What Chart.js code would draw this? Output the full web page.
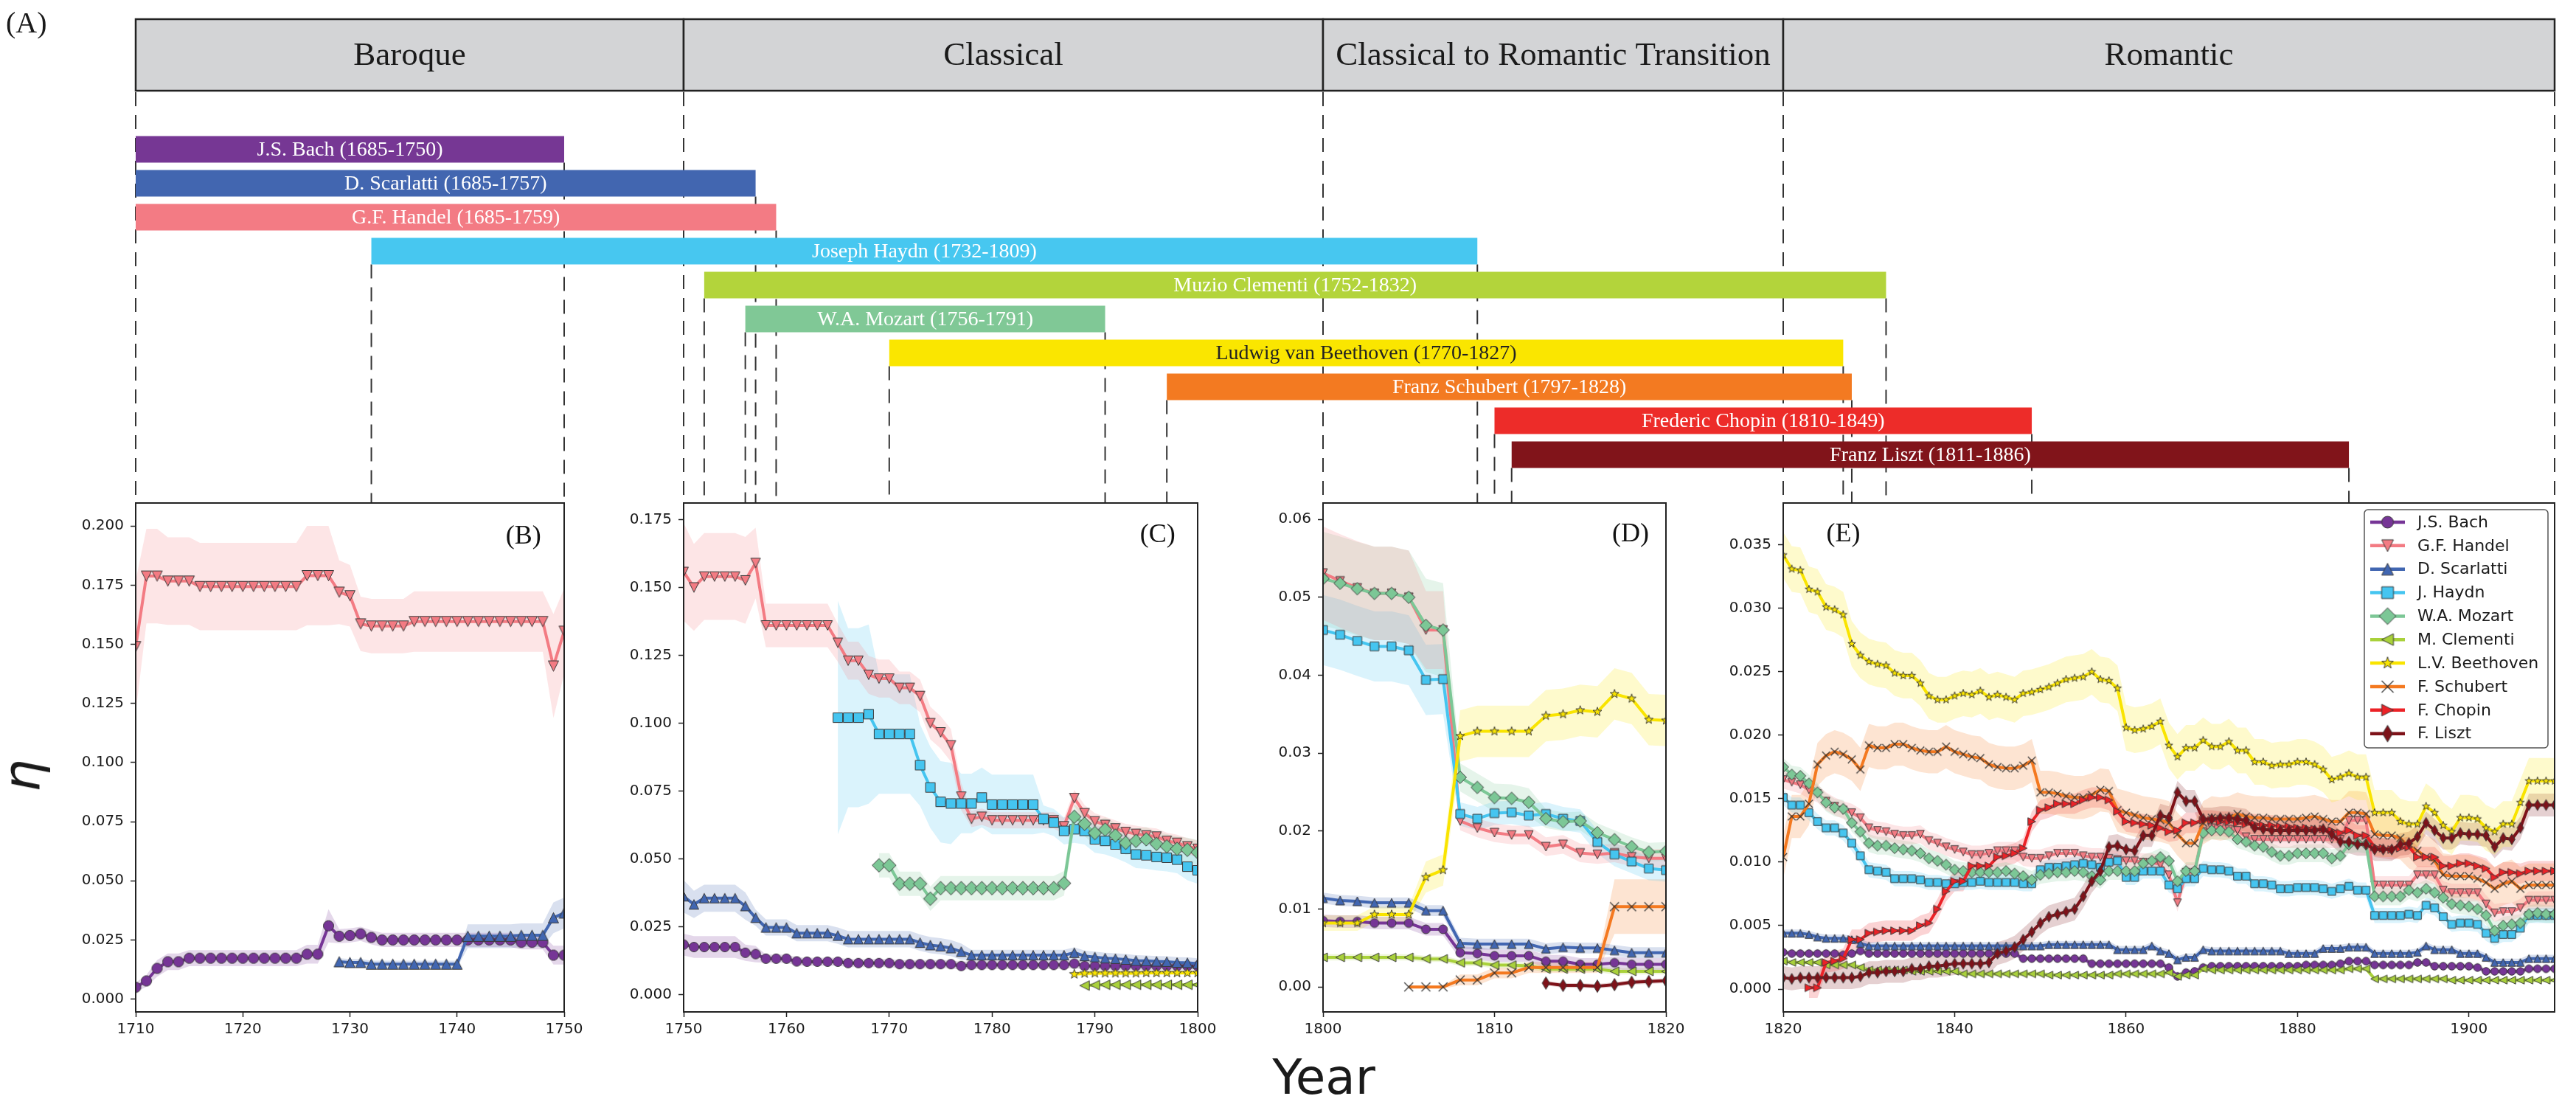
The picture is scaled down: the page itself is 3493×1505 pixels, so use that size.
<!DOCTYPE html>
<html>
<head>
<meta charset="utf-8">
<script src="https://cdn.jsdelivr.net/npm/chart.js@4.4.1/dist/chart.umd.min.js"></script>
<style>
  html, body { margin: 0; padding: 0; background: #fff; overflow: hidden; }
  body { width: 3493px; height: 1505px; position: relative; }
  canvas { position: absolute; }
  .lbl { position: absolute; color: #1a1a1a; white-space: nowrap; line-height: 1; }
</style>
</head>
<body>
<canvas id="timeline" width="3493" height="690" style="left:0;top:0"></canvas>
<canvas id="pB"></canvas>
<canvas id="pC"></canvas>
<canvas id="pD"></canvas>
<canvas id="pE"></canvas>
<div class="lbl" id="eta" style="left:30px; top:1052px; font: italic 70px 'DejaVu Sans'; transform: translate(-50%,-50%) rotate(-90deg);">η</div>
<div class="lbl" id="yearLbl" style="left:1795px; top:1422px; font: 66px 'DejaVu Sans'; transform: translateX(-50%);">Year</div>
<script>
// --- composers, same order as the legend ---
const composers = ['J.S. Bach', 'G.F. Handel', 'D. Scarlatti', 'J. Haydn', 'W.A. Mozart',
  'M. Clementi', 'L.V. Beethoven', 'F. Schubert', 'F. Chopin', 'F. Liszt'];
const lineColors = ['#763596', '#f37b83', '#4166b1', '#45c5f0', '#7cc796',
  '#a9d13b', '#f9e400', '#f47920', '#ec2227', '#7e1219'];
const markerShapes = ['o', 'v', '^', 's', 'D', '<', '*', 'x', '>', 'd'];

// --- timeline (A) ---
const lifeNames = ['J.S. Bach', 'D. Scarlatti', 'G.F. Handel', 'Joseph Haydn', 'Muzio Clementi',
  'W.A. Mozart', 'Ludwig van Beethoven', 'Franz Schubert', 'Frederic Chopin', 'Franz Liszt'];
const lifeBorn = [1685, 1685, 1685, 1732, 1752, 1756, 1770, 1797, 1810, 1811];
const lifeDied = [1750, 1757, 1759, 1809, 1832, 1791, 1827, 1828, 1849, 1886];
const lifeColors = ['#763794', '#4266b0', '#f37b84', '#47c7f0', '#b3d43b',
  '#80c896', '#fae600', '#f37a21', '#ed2c29', '#81141a'];
const eraNames = ['Baroque', 'Classical', 'Classical to Romantic Transition', 'Romantic'];
const eraFrom = [1710, 1750, 1800, 1820];
const eraTo = [1750, 1800, 1820, 1910];

// --- panel (B) 1710-1750 ---
const bXTicks = [1710, 1720, 1730, 1740, 1750];
const bYTicks = [0, 0.025, 0.05, 0.075, 0.1, 0.125, 0.15, 0.175, 0.2];
const bBach = [0.005, 0.0077, 0.013, 0.0158, 0.0158,
  0.0173, 0.0173, 0.0173, 0.0173, 0.0173, 0.0173, 0.0173, 0.0173, 0.0173, 0.0173, 0.0173,
  0.019, 0.019, 0.031, 0.0266, 0.0269, 0.0276, 0.0261,
  0.025, 0.025, 0.025, 0.025, 0.025, 0.025, 0.025, 0.025, 0.025, 0.025, 0.025, 0.025, 0.025,
  0.024, 0.024, 0.024, 0.0186, 0.0186];
const bBachBand = [0.002, 0.0025, 0.0035, 0.0035, 0.0035,
  0.0034, 0.0034, 0.0034, 0.0034, 0.0034, 0.0034, 0.0034, 0.0034, 0.0034, 0.0034, 0.0034,
  0.004, 0.004, 0.007, 0.003, 0.003, 0.003, 0.003,
  0.003, 0.003, 0.003, 0.003, 0.003, 0.003, 0.003, 0.003, 0.003, 0.003, 0.003, 0.003, 0.003,
  0.003, 0.003, 0.003, 0.004, 0.004];
const bHandel = [0.149, 0.1788, 0.1788, 0.1767, 0.1767, 0.1767,
  0.1744, 0.1744, 0.1744, 0.1744, 0.1744, 0.1744, 0.1744, 0.1744, 0.1744, 0.1744,
  0.179, 0.179, 0.179, 0.172, 0.1705, 0.1586, 0.1577, 0.1577, 0.1577, 0.1577,
  0.1596, 0.1596, 0.1596, 0.1596, 0.1596, 0.1596, 0.1596, 0.1596, 0.1596, 0.1596, 0.1596, 0.1596, 0.1596,
  0.1408, 0.1555];
const bHandelBand = [0.028, 0.02, 0.02, 0.0185, 0.0185, 0.0185,
  0.0185, 0.0185, 0.0185, 0.0185, 0.0185, 0.0185, 0.0185, 0.0185, 0.0185, 0.0185,
  0.021, 0.021, 0.021, 0.0135, 0.013, 0.0115, 0.0115, 0.0115, 0.0115, 0.0115,
  0.0128, 0.0128, 0.0128, 0.0128, 0.0128, 0.0128, 0.0128, 0.0128, 0.0128, 0.0128, 0.0128, 0.0128, 0.0128,
  0.022, 0.018];
const bScarlatti = [0.0158, 0.0155, 0.0155,
  0.0148, 0.0148, 0.0148, 0.0148, 0.0148, 0.0148, 0.0148, 0.0148, 0.0148,
  0.0266, 0.0266, 0.0266, 0.0266, 0.0266, 0.027, 0.027, 0.027, 0.0344, 0.0364];
const bScarlattiBand = [0.0015, 0.0015, 0.0015, 0.0015, 0.0015, 0.0015, 0.0015, 0.0015, 0.0015, 0.0015, 0.0015, 0.0015,
  0.005, 0.005, 0.005, 0.005, 0.005, 0.005, 0.005, 0.005, 0.0065, 0.0065];

// --- panel (C) 1750-1800 ---
const cXTicks = [1750, 1760, 1770, 1780, 1790, 1800];
const cYTicks = [0, 0.025, 0.05, 0.075, 0.1, 0.125, 0.15, 0.175];
const cBach = [0.0184, 0.0175, 0.0175, 0.0175, 0.0175, 0.0175, 0.0154, 0.0149, 0.0132, 0.0132,
  0.0132, 0.0122, 0.0121, 0.0121, 0.0121, 0.0121, 0.0116, 0.0116, 0.0116, 0.0116,
  0.0116, 0.0112, 0.0112, 0.0112, 0.0112, 0.0112, 0.0112, 0.0105, 0.0109, 0.0109,
  0.0109, 0.0109, 0.0109, 0.0109, 0.0109, 0.0109, 0.0109, 0.0109, 0.0114, 0.0105,
  0.0105, 0.0105, 0.0105, 0.0105, 0.0105, 0.0105, 0.0105, 0.0105, 0.0105, 0.0105, 0.0105];
const cBachBand = [0.004, 0.004, 0.004, 0.004, 0.004, 0.004, 0.003, 0.003, 0.0015, 0.0015,
  0.0015, 0.0015, 0.0015, 0.0015, 0.0015, 0.0015, 0.0015, 0.0015, 0.0015, 0.0015,
  0.0015, 0.0015, 0.0015, 0.0015, 0.0015, 0.0015, 0.0015, 0.0015, 0.0015, 0.0015,
  0.0015, 0.0015, 0.0015, 0.0015, 0.0015, 0.0015, 0.0015, 0.0015, 0.0015, 0.0015,
  0.0015, 0.0015, 0.0015, 0.0015, 0.0015, 0.0015, 0.0015, 0.0015, 0.0015, 0.0015, 0.0015];
const cHandel = [0.1557, 0.150, 0.154, 0.154, 0.154, 0.154, 0.1526, 0.159, 0.136, 0.136,
  0.136, 0.136, 0.136, 0.136, 0.136, 0.1296, 0.123, 0.123, 0.1178, 0.1164,
  0.1164, 0.113, 0.113, 0.110, 0.100, 0.0966, 0.0918, 0.0729, 0.0647, 0.0655,
  0.0642, 0.0642, 0.0642, 0.0642, 0.0642, 0.0642, 0.0642, 0.062, 0.0724, 0.0668,
  0.0638, 0.0625, 0.0612, 0.0599, 0.0592, 0.0586, 0.0582, 0.0566, 0.0559, 0.0546, 0.0537];
const cHandelBand = [0.018, 0.016, 0.016, 0.016, 0.016, 0.016, 0.016, 0.013, 0.008, 0.008,
  0.008, 0.008, 0.008, 0.008, 0.008, 0.007, 0.007, 0.007, 0.007, 0.007,
  0.007, 0.006, 0.006, 0.006, 0.006, 0.006, 0.006, 0.005, 0.003, 0.003,
  0.003, 0.003, 0.003, 0.003, 0.003, 0.003, 0.003, 0.003, 0.003, 0.003,
  0.003, 0.003, 0.003, 0.003, 0.003, 0.003, 0.003, 0.003, 0.003, 0.003, 0.003];
const cScarlatti = [0.0362, 0.0332, 0.0355, 0.0355, 0.0355, 0.0355, 0.0326, 0.0283, 0.0247, 0.0247,
  0.0247, 0.0226, 0.0226, 0.0226, 0.0226, 0.0217, 0.0204, 0.0204, 0.0204, 0.0204,
  0.0204, 0.0204, 0.0204, 0.0191, 0.0182, 0.0178, 0.0171, 0.0158, 0.0145, 0.0145,
  0.0145, 0.0145, 0.0145, 0.0145, 0.0145, 0.0145, 0.0145, 0.0145, 0.0154, 0.0142,
  0.0138, 0.0134, 0.0132, 0.0129, 0.0125, 0.0124, 0.0122, 0.0121, 0.0118, 0.0117, 0.0114];
const cScarlattiBand = [0.006, 0.005, 0.005, 0.005, 0.005, 0.005, 0.005, 0.003, 0.003, 0.003,
  0.003, 0.003, 0.003, 0.003, 0.003, 0.003, 0.003, 0.003, 0.003, 0.003,
  0.003, 0.003, 0.003, 0.003, 0.003, 0.003, 0.003, 0.003, 0.002, 0.002,
  0.002, 0.002, 0.002, 0.002, 0.002, 0.002, 0.002, 0.002, 0.002, 0.002,
  0.002, 0.002, 0.002, 0.002, 0.002, 0.002, 0.002, 0.002, 0.002, 0.002, 0.002];
const cHaydn = [0.102, 0.102, 0.102, 0.1033, 0.096, 0.096, 0.096, 0.096, 0.0845, 0.0763,
  0.071, 0.0704, 0.0704, 0.0704, 0.0726, 0.070, 0.070, 0.070, 0.070, 0.070,
  0.0647, 0.0634, 0.0603, 0.0609, 0.0603, 0.0572, 0.0566, 0.0553, 0.0537, 0.0516,
  0.0513, 0.0507, 0.0504, 0.0497, 0.0471, 0.0458];
const cHaydnBand = [0.043, 0.033, 0.033, 0.033, 0.022, 0.022, 0.022, 0.022, 0.015, 0.015,
  0.015, 0.015, 0.011, 0.011, 0.011, 0.011, 0.011, 0.011, 0.011, 0.011,
  0.005, 0.005, 0.005, 0.005, 0.005, 0.005, 0.005, 0.005, 0.005, 0.005,
  0.005, 0.005, 0.005, 0.005, 0.005, 0.005];
const cMozart = [0.0476, 0.0476, 0.0408, 0.0408, 0.0408, 0.0353, 0.0392, 0.0392, 0.0392, 0.0392,
  0.0392, 0.0392, 0.0392, 0.0392, 0.0392, 0.0392, 0.0392, 0.0392, 0.041, 0.0655,
  0.0629, 0.0595, 0.0608, 0.0586, 0.0559, 0.0566, 0.0572, 0.0555, 0.0546, 0.0537, 0.0533, 0.0524];
const cBeethoven = [0.0075, 0.0078, 0.0079, 0.0079, 0.0079, 0.0079, 0.0079, 0.008, 0.008, 0.008, 0.008, 0.008, 0.008];
const cClementi = [0.0033, 0.0035, 0.0036, 0.0036, 0.0036, 0.0036, 0.0036, 0.0036, 0.0036, 0.0036, 0.0036, 0.0036];

// --- panel (D) 1800-1820 ---
const dXTicks = [1800, 1810, 1820];
const dYTicks = [0, 0.01, 0.02, 0.03, 0.04, 0.05, 0.06];
const dBach = [0.0085, 0.0084, 0.0084, 0.0082, 0.0082, 0.0082, 0.0074, 0.0074, 0.0044, 0.0043, 0.004,
  0.004, 0.004, 0.0033, 0.0033, 0.0029, 0.0029, 0.0031, 0.0029, 0.0029, 0.0029];
const dHandel = [0.0531, 0.0521, 0.0512, 0.0505, 0.0505, 0.050, 0.0458, 0.0458, 0.0213, 0.0204, 0.0198,
  0.0195, 0.0195, 0.018, 0.0183, 0.0172, 0.017, 0.0172, 0.0167, 0.0165, 0.0165];
const dHandelBand = [0.006, 0.006, 0.006, 0.006, 0.006, 0.006, 0.005, 0.005, 0.0012, 0.0012, 0.0012,
  0.0012, 0.0012, 0.0012, 0.0012, 0.0012, 0.0012, 0.0012, 0.0012, 0.0012, 0.0012];
const dScarlatti = [0.0114, 0.0111, 0.011, 0.0108, 0.0108, 0.0108, 0.0098, 0.0098, 0.0056, 0.0055, 0.0055,
  0.0055, 0.0055, 0.0049, 0.0051, 0.005, 0.005, 0.0047, 0.0044, 0.0044, 0.0044];
const dHaydn = [0.0458, 0.0452, 0.0444, 0.0437, 0.0437, 0.0432, 0.0394, 0.0395, 0.0222, 0.0216, 0.0223,
  0.0224, 0.022, 0.0222, 0.0216, 0.0213, 0.0186, 0.017, 0.0161, 0.0152, 0.015];
const dHaydnBand = [0.0045, 0.0045, 0.0045, 0.0045, 0.0045, 0.0045, 0.0045, 0.0045, 0.0015, 0.0015, 0.0015,
  0.0015, 0.0015, 0.0015, 0.0015, 0.0015, 0.0015, 0.0015, 0.0015, 0.0015, 0.0015];
const dMozart = [0.0524, 0.0518, 0.0511, 0.0505, 0.0505, 0.050, 0.0464, 0.0458, 0.0269, 0.0256, 0.0243,
  0.0242, 0.0237, 0.0216, 0.0212, 0.0213, 0.0198, 0.0189, 0.018, 0.0173, 0.0174];
const dMozartBand = [0.006, 0.006, 0.006, 0.006, 0.006, 0.006, 0.006, 0.006, 0.0018, 0.0018, 0.0018,
  0.0018, 0.0018, 0.0012, 0.0012, 0.0012, 0.0012, 0.0012, 0.0012, 0.0012, 0.0012];
const dClementi = [0.0038, 0.0038, 0.0038, 0.0038, 0.0038, 0.0038, 0.0036, 0.0036, 0.0031, 0.0031, 0.0028,
  0.0028, 0.0027, 0.0023, 0.0023, 0.0023, 0.0023, 0.002, 0.002, 0.002, 0.002];
const dBeethoven = [0.0082, 0.0082, 0.0082, 0.0093, 0.0093, 0.0093, 0.0141, 0.015, 0.0322, 0.0328, 0.0328,
  0.0328, 0.0328, 0.0348, 0.035, 0.0355, 0.0353, 0.0376, 0.037, 0.0343, 0.0342];
const dBeethovenBand = [0.001, 0.001, 0.001, 0.001, 0.001, 0.001, 0.002, 0.002, 0.0033, 0.0033, 0.0033,
  0.0033, 0.0033, 0.0033, 0.0033, 0.0033, 0.0033, 0.0033, 0.0033, 0.0033, 0.0033];
const dSchubert = [0, 0, 0, 0.0009, 0.0009, 0.0018, 0.0018, 0.0025, 0.0025, 0.0025, 0.0025, 0.0025,
  0.0103, 0.0103, 0.0103, 0.0103];
const dSchubertBand = [0.0002, 0.0002, 0.0002, 0.0007, 0.0007, 0.0007, 0.0007, 0.0007, 0.0007, 0.0007, 0.0007, 0.0007,
  0.0035, 0.0035, 0.0035, 0.0035];
const dLiszt = [0.0005, 0.0002, 0.0002, 0.0001, 0.0003, 0.0006, 0.0007, 0.0008];

// --- panel (E) 1820-1910 ---
const eXTicks = [1820, 1840, 1860, 1880, 1900];
const eYTicks = [0, 0.005, 0.01, 0.015, 0.02, 0.025, 0.03, 0.035];
const eBeethoven = [
  0.0342, 0.0331, 0.0330, 0.0315, 0.0313, 0.0301, 0.0299, 0.0295, 0.0272, 0.0263,
  0.0258, 0.0256, 0.0255, 0.0249, 0.0247, 0.0247, 0.0241, 0.0231, 0.0228, 0.0228,
  0.0231, 0.0233, 0.0232, 0.0235, 0.0230, 0.0232, 0.0230, 0.0228, 0.0233, 0.0234,
  0.0236, 0.0238, 0.0241, 0.0244, 0.0245, 0.0246, 0.0250, 0.0244, 0.0243, 0.0237,
  0.0206, 0.0204, 0.0205, 0.0207, 0.0211, 0.0192, 0.0183, 0.0190, 0.0190, 0.0196,
  0.0191, 0.0191, 0.0195, 0.0188, 0.0188, 0.0179, 0.0179, 0.0176, 0.0177, 0.0177,
  0.0179, 0.0179, 0.0177, 0.0173, 0.0165, 0.0167, 0.0170, 0.0167, 0.0167, 0.0139,
  0.0139, 0.0139, 0.0132, 0.0130, 0.0130, 0.0144, 0.0139, 0.0129, 0.0124, 0.0135,
  0.0135, 0.0134, 0.0127, 0.0124, 0.0130, 0.0130, 0.0147, 0.0164, 0.0164, 0.0164,
  0.0164];
const eSchubert = [
  0.0104, 0.0136, 0.0136, 0.0146, 0.0177, 0.0184, 0.0187, 0.0185, 0.0181, 0.0173,
  0.0192, 0.0190, 0.0190, 0.0193, 0.0193, 0.0190, 0.0188, 0.0187, 0.0187, 0.0191,
  0.0187, 0.0185, 0.0183, 0.0182, 0.0177, 0.0175, 0.0174, 0.0174, 0.0176, 0.0180,
  0.0155, 0.0155, 0.0154, 0.0152, 0.0151, 0.0151, 0.0153, 0.0157, 0.0156, 0.0141,
  0.0139, 0.0137, 0.0135, 0.0134, 0.0133, 0.0131, 0.0122, 0.0115, 0.0115, 0.0131,
  0.0135, 0.0134, 0.0135, 0.0138, 0.0136, 0.0135, 0.0135, 0.0134, 0.0134, 0.0134,
  0.0134, 0.0135, 0.0136, 0.0134, 0.0132, 0.0132, 0.0139, 0.0139, 0.0138, 0.0122,
  0.0121, 0.0121, 0.0119, 0.0112, 0.0109, 0.0104, 0.0101, 0.0090, 0.0089, 0.0089,
  0.0089, 0.0087, 0.0084, 0.0079, 0.0083, 0.0085, 0.0079, 0.0082, 0.0082, 0.0082,
  0.0082];
const eHandel = [
  0.0165, 0.0163, 0.0161, 0.0157, 0.0154, 0.0148, 0.0144, 0.0141, 0.0139, 0.0135,
  0.0127, 0.0125, 0.0124, 0.0122, 0.0121, 0.0121, 0.0122, 0.0117, 0.0115, 0.0112,
  0.0110, 0.0108, 0.0106, 0.0106, 0.0107, 0.0109, 0.0109, 0.0109, 0.0104, 0.0103,
  0.0103, 0.0105, 0.0107, 0.0107, 0.0107, 0.0105, 0.0104, 0.0104, 0.0103, 0.0102,
  0.0101, 0.0101, 0.0100, 0.0100, 0.0098, 0.0090, 0.0068, 0.0092, 0.0092, 0.0124,
  0.0127, 0.0128, 0.0126, 0.0125, 0.0120, 0.0118, 0.0118, 0.0118, 0.0118, 0.0118,
  0.0118, 0.0118, 0.0118, 0.0118, 0.0118, 0.0118, 0.0133, 0.0133, 0.0133, 0.0082,
  0.0082, 0.0082, 0.0082, 0.0082, 0.0090, 0.0090, 0.0090, 0.0078, 0.0076, 0.0076,
  0.0076, 0.0076, 0.0067, 0.0060, 0.0061, 0.0061, 0.0064, 0.0070, 0.0070, 0.0070,
  0.0070];
const eMozart = [
  0.0175, 0.0169, 0.0168, 0.0162, 0.0155, 0.0147, 0.0143, 0.0142, 0.0131, 0.0124,
  0.0115, 0.0113, 0.0113, 0.0111, 0.0110, 0.0109, 0.0107, 0.0103, 0.0101, 0.0098,
  0.0094, 0.0093, 0.0092, 0.0092, 0.0092, 0.0092, 0.0093, 0.0091, 0.0089, 0.0086,
  0.0090, 0.0091, 0.0092, 0.0092, 0.0093, 0.0092, 0.0089, 0.0086, 0.0093, 0.0093,
  0.0093, 0.0093, 0.0099, 0.0101, 0.0104, 0.0101, 0.0085, 0.0093, 0.0093, 0.0123,
  0.0125, 0.0125, 0.0124, 0.0118, 0.0116, 0.0113, 0.0112, 0.0108, 0.0105, 0.0105,
  0.0107, 0.0107, 0.0107, 0.0107, 0.0103, 0.0105, 0.0114, 0.0115, 0.0114, 0.0073,
  0.0073, 0.0073, 0.0073, 0.0078, 0.0076, 0.0079, 0.0076, 0.0072, 0.0067, 0.0066,
  0.0065, 0.0063, 0.0058, 0.0046, 0.0050, 0.0051, 0.0052, 0.0059, 0.0060, 0.0059,
  0.0059];
const eHaydn = [
  0.0151, 0.0145, 0.0145, 0.0139, 0.0132, 0.0127, 0.0127, 0.0123, 0.0115, 0.0105,
  0.0094, 0.0093, 0.0092, 0.0087, 0.0087, 0.0087, 0.0086, 0.0084, 0.0084, 0.0083,
  0.0083, 0.0084, 0.0084, 0.0085, 0.0084, 0.0084, 0.0084, 0.0084, 0.0083, 0.0083,
  0.0094, 0.0096, 0.0096, 0.0097, 0.0098, 0.0099, 0.0098, 0.0096, 0.0100, 0.0101,
  0.0088, 0.0088, 0.0093, 0.0093, 0.0093, 0.0082, 0.0079, 0.0087, 0.0087, 0.0095,
  0.0094, 0.0094, 0.0093, 0.0089, 0.0089, 0.0083, 0.0083, 0.0082, 0.0079, 0.0079,
  0.0080, 0.0080, 0.0080, 0.0079, 0.0077, 0.0079, 0.0081, 0.0078, 0.0078, 0.0058,
  0.0058, 0.0058, 0.0058, 0.0059, 0.0058, 0.0066, 0.0064, 0.0057, 0.0051, 0.0052,
  0.0052, 0.0051, 0.0044, 0.0040, 0.0043, 0.0043, 0.0048, 0.0058, 0.0058, 0.0058,
  0.0058];
const eClementi = [
  0.0022, 0.0021, 0.0021, 0.0021, 0.0021, 0.0019, 0.0019, 0.0019, 0.0019, 0.0017,
  0.0015, 0.0015, 0.0015, 0.0015, 0.0015, 0.0014, 0.0014, 0.0014, 0.0014, 0.0014,
  0.0014, 0.0012, 0.0012, 0.0012, 0.0012, 0.0012, 0.0012, 0.0012, 0.0012, 0.0012,
  0.0012, 0.0011, 0.0011, 0.0011, 0.0011, 0.0011, 0.0011, 0.0011, 0.0011, 0.0012,
  0.0012, 0.0012, 0.0012, 0.0012, 0.0012, 0.0013, 0.0010, 0.0011, 0.0011, 0.0016,
  0.0015, 0.0015, 0.0015, 0.0015, 0.0015, 0.0015, 0.0015, 0.0015, 0.0015, 0.0015,
  0.0015, 0.0015, 0.0015, 0.0015, 0.0015, 0.0015, 0.0016, 0.0016, 0.0016, 0.0008,
  0.0008, 0.0008, 0.0008, 0.0008, 0.0008, 0.0008, 0.0008, 0.0008, 0.0007, 0.0007,
  0.0007, 0.0007, 0.0007, 0.0007, 0.0007, 0.0007, 0.0007, 0.0007, 0.0007, 0.0007,
  0.0007];
const eBach = [
  0.0029, 0.0028, 0.0028, 0.0028, 0.0028, 0.0028, 0.0028, 0.0027, 0.0028, 0.0030,
  0.0028, 0.0028, 0.0028, 0.0028, 0.0028, 0.0028, 0.0028, 0.0028, 0.0028, 0.0028,
  0.0028, 0.0028, 0.0028, 0.0028, 0.0028, 0.0028, 0.0028, 0.0028, 0.0024, 0.0024,
  0.0024, 0.0024, 0.0024, 0.0024, 0.0024, 0.0024, 0.0020, 0.0020, 0.0020, 0.0020,
  0.0020, 0.0020, 0.0020, 0.0020, 0.0020, 0.0017, 0.0010, 0.0013, 0.0014, 0.0017,
  0.0018, 0.0018, 0.0018, 0.0018, 0.0018, 0.0018, 0.0018, 0.0018, 0.0018, 0.0018,
  0.0018, 0.0019, 0.0019, 0.0019, 0.0019, 0.0020, 0.0022, 0.0022, 0.0022, 0.0019,
  0.0019, 0.0019, 0.0019, 0.0019, 0.0021, 0.0021, 0.0018, 0.0018, 0.0018, 0.0018,
  0.0018, 0.0017, 0.0014, 0.0014, 0.0014, 0.0014, 0.0014, 0.0016, 0.0016, 0.0016,
  0.0016];
const eScarlatti = [
  0.0044, 0.0044, 0.0044, 0.0043, 0.0041, 0.0040, 0.0040, 0.0040, 0.0039, 0.0036,
  0.0034, 0.0034, 0.0034, 0.0034, 0.0034, 0.0034, 0.0034, 0.0034, 0.0034, 0.0034,
  0.0034, 0.0034, 0.0034, 0.0034, 0.0034, 0.0034, 0.0034, 0.0034, 0.0034, 0.0034,
  0.0034, 0.0035, 0.0035, 0.0035, 0.0035, 0.0035, 0.0035, 0.0035, 0.0035, 0.0031,
  0.0031, 0.0031, 0.0031, 0.0034, 0.0030, 0.0028, 0.0023, 0.0025, 0.0025, 0.0031,
  0.0030, 0.0030, 0.0030, 0.0030, 0.0030, 0.0030, 0.0030, 0.0030, 0.0030, 0.0028,
  0.0028, 0.0028, 0.0028, 0.0032, 0.0032, 0.0032, 0.0033, 0.0033, 0.0033, 0.0028,
  0.0028, 0.0028, 0.0028, 0.0028, 0.0029, 0.0034, 0.0031, 0.0031, 0.0031, 0.0028,
  0.0028, 0.0028, 0.0025, 0.0021, 0.0021, 0.0021, 0.0021, 0.0024, 0.0024, 0.0024,
  0.0024];
const eChopin = [ // from 1823
  0.0001, 0.0001, 0.0021, 0.0022, 0.0024, 0.0039, 0.0039,
  0.0044, 0.0045, 0.0046, 0.0046, 0.0046, 0.0046, 0.0050, 0.0052, 0.0063, 0.0077,
  0.0085, 0.0085, 0.0097, 0.0097, 0.0097, 0.0104, 0.0105, 0.0107, 0.0111, 0.0132,
  0.0141, 0.0143, 0.0146, 0.0146, 0.0146, 0.0149, 0.0151, 0.0151, 0.0149, 0.0140,
  0.0132, 0.0131, 0.0130, 0.0129, 0.0127, 0.0124, 0.0125, 0.0131, 0.0131, 0.0133,
  0.0133, 0.0132, 0.0132, 0.0131, 0.0130, 0.0130, 0.0129, 0.0129, 0.0128, 0.0128,
  0.0127, 0.0127, 0.0126, 0.0126, 0.0125, 0.0123, 0.0125, 0.0121, 0.0121, 0.0112,
  0.0111, 0.0110, 0.0111, 0.0112, 0.0104, 0.0104, 0.0104, 0.0097, 0.0097, 0.0099,
  0.0099, 0.0097, 0.0095, 0.0088, 0.0092, 0.0092, 0.0091, 0.0093, 0.0093, 0.0093,
  0.0093];
const eLiszt = [
  0.0009, 0.0008, 0.0009, 0.0009, 0.0009, 0.0009, 0.0009, 0.0009, 0.0009, 0.0010,
  0.0013, 0.0013, 0.0014, 0.0014, 0.0014, 0.0016, 0.0016, 0.0018, 0.0018, 0.0019,
  0.0020, 0.0020, 0.0020, 0.0020, 0.0021, 0.0028, 0.0030, 0.0033, 0.0039, 0.0045,
  0.0052, 0.0057, 0.0059, 0.0061, 0.0063, 0.0073, 0.0085, 0.0093, 0.0112, 0.0113,
  0.0110, 0.0109, 0.0121, 0.0121, 0.0137, 0.0135, 0.0155, 0.0148, 0.0148, 0.0134,
  0.0134, 0.0135, 0.0135, 0.0134, 0.0133, 0.0127, 0.0126, 0.0125, 0.0125, 0.0125,
  0.0125, 0.0125, 0.0125, 0.0126, 0.0122, 0.0116, 0.0116, 0.0114, 0.0114, 0.0110,
  0.0110, 0.0110, 0.0114, 0.0115, 0.0120, 0.0131, 0.0125, 0.0119, 0.0119, 0.0123,
  0.0122, 0.0122, 0.0121, 0.0112, 0.0119, 0.0118, 0.0127, 0.0145, 0.0145, 0.0145,
  0.0145];

// --- layout ---
const PLOT_TOP = 681, PLOT_H = 691, PAD_T = 20, Y_AXIS_W = 120, X_AXIS_H = 60, PAD_R = 40;
const TXT = '#1a1a1a';

function rgba(hex, a) {
  const n = parseInt(hex.slice(1), 16);
  return `rgba(${n >> 16},${(n >> 8) & 255},${n & 255},${a})`;
}

// matplotlib-like markers drawn once into small canvases
function marker(shape, fill, size) {
  const c = document.createElement('canvas');
  const s = Math.ceil(size * 1.5 + 4);
  c.width = s; c.height = s;
  const g = c.getContext('2d');
  const h = size / 2;
  g.translate(s / 2, s / 2);
  g.beginPath();
  if (shape === 'o') g.arc(0, 0, h, 0, Math.PI * 2);
  else if (shape === 'v') { g.moveTo(-h, -h); g.lineTo(h, -h); g.lineTo(0, h); }
  else if (shape === '^') { g.moveTo(-h, h); g.lineTo(h, h); g.lineTo(0, -h); }
  else if (shape === '<') { g.moveTo(h, -h); g.lineTo(h, h); g.lineTo(-h, 0); }
  else if (shape === '>') { g.moveTo(-h, -h); g.lineTo(-h, h); g.lineTo(h, 0); }
  else if (shape === 's') g.rect(-h, -h, size, size);
  else if (shape === 'D') { const r = h * 1.414; g.moveTo(0, -r); g.lineTo(r, 0); g.lineTo(0, r); g.lineTo(-r, 0); }
  else if (shape === 'd') { const r = h * 1.414, w = r * 0.6; g.moveTo(0, -r); g.lineTo(w, 0); g.lineTo(0, r); g.lineTo(-w, 0); }
  else if (shape === '*') {
    for (let i = 0; i < 10; i++) {
      const r = i % 2 ? h * 0.42 : h * 1.05;
      const a = -Math.PI / 2 + i * Math.PI / 5;
      g.lineTo(Math.cos(a) * r, Math.sin(a) * r);
    }
  } else if (shape === 'x') {
    g.moveTo(-h, -h); g.lineTo(h, h); g.moveTo(h, -h); g.lineTo(-h, h);
    g.strokeStyle = '#333'; g.lineWidth = 1.2; g.stroke();
    return c;
  }
  g.closePath();
  g.fillStyle = fill; g.fill();
  g.strokeStyle = '#3a3a3a'; g.lineWidth = 1; g.stroke();
  return c;
}

const framePlugin = {
  id: 'frame',
  afterDatasetsDraw(chart, args, opts) {
    const { ctx, chartArea: a } = chart;
    ctx.save();
    ctx.strokeStyle = '#222'; ctx.lineWidth = 2;
    ctx.strokeRect(a.left, a.top, a.right - a.left, a.bottom - a.top);
    ctx.font = "36px 'Liberation Serif'";
    ctx.fillStyle = '#111'; ctx.textAlign = 'center'; ctx.textBaseline = 'middle';
    ctx.fillText(opts.tag, a.left + opts.tagX * (a.right - a.left), a.top + opts.tagY);
    ctx.restore();
  }
};

const legendPlugin = {
  id: 'eLegend',
  afterDatasetsDraw(chart) {
    const { ctx, chartArea: a } = chart;
    const w = 249, h = 323, x0 = a.right - 9 - w, y0 = a.top + 9;
    ctx.save();
    ctx.beginPath();
    if (ctx.roundRect) ctx.roundRect(x0, y0, w, h, 5); else ctx.rect(x0, y0, w, h);
    ctx.fillStyle = 'rgba(255,255,255,0.85)'; ctx.fill();
    ctx.strokeStyle = '#555'; ctx.lineWidth = 1.5; ctx.stroke();
    ctx.font = "22px 'DejaVu Sans'"; ctx.textBaseline = 'middle';
    composers.forEach((name, k) => {
      const y = y0 + 17 + k * 31.85;
      ctx.strokeStyle = lineColors[k]; ctx.lineWidth = 4.5;
      ctx.beginPath(); ctx.moveTo(x0 + 8, y); ctx.lineTo(x0 + 55, y); ctx.stroke();
      const m = marker(markerShapes[k], lineColors[k], 16);
      ctx.drawImage(m, x0 + 31.5 - m.width / 2, y - m.height / 2);
      ctx.fillStyle = TXT;
      ctx.fillText(name, x0 + 72, y + 1);
    });
    ctx.restore();
  }
};

const panels = [
  { id: 'pB', plot: [184, 765], xMin: 1710, xMax: 1750, yMin: -0.0054, yMax: 0.2097,
    xTicks: bXTicks, yTicks: bYTicks, dec: 3, mk: 14, tag: '(B)', tagX: 0.905, tagY: 46,
    series: [[0, 1710, bBach, bBachBand], [1, 1710, bHandel, bHandelBand], [2, 1729, bScarlatti, bScarlattiBand]] },
  { id: 'pC', plot: [927, 1624], xMin: 1750, xMax: 1800, yMin: -0.0064, yMax: 0.1811,
    xTicks: cXTicks, yTicks: cYTicks, dec: 3, mk: 13, tag: '(C)', tagX: 0.922, tagY: 44,
    series: [[0, 1750, cBach, cBachBand], [1, 1750, cHandel, cHandelBand], [2, 1750, cScarlatti, cScarlattiBand],
      [3, 1765, cHaydn, cHaydnBand], [4, 1769, cMozart, 0.0045], [5, 1789, cClementi, 0.0006],
      [6, 1788, cBeethoven, 0.0008]] },
  { id: 'pD', plot: [1794, 2259], xMin: 1800, xMax: 1820, yMin: -0.0032, yMax: 0.0621,
    xTicks: dXTicks, yTicks: dYTicks, dec: 2, mk: 12, tag: '(D)', tagX: 0.897, tagY: 43,
    series: [[0, 1800, dBach, 0.0008], [1, 1800, dHandel, dHandelBand], [2, 1800, dScarlatti, 0.0007],
      [3, 1800, dHaydn, dHaydnBand], [4, 1800, dMozart, dMozartBand], [5, 1800, dClementi, 0.0004],
      [6, 1800, dBeethoven, dBeethovenBand], [7, 1805, dSchubert, dSchubertBand], [9, 1813, dLiszt, 0.0003]] },
  { id: 'pE', plot: [2418, 3464], xMin: 1820, xMax: 1910, yMin: -0.0018, yMax: 0.0383,
    xTicks: eXTicks, yTicks: eYTicks, dec: 3, mk: 10.5, tag: '(E)', tagX: 0.078, tagY: 43, legend: true,
    series: [[0, 1820, eBach, 0.0002], [1, 1820, eHandel, 0.0007], [2, 1820, eScarlatti, 0.0003],
      [3, 1820, eHaydn, 0.0006], [4, 1820, eMozart, 0.0007], [5, 1820, eClementi, 0.0002],
      [6, 1820, eBeethoven, 0.0018], [7, 1820, eSchubert, 0.0017], [8, 1823, eChopin, 0.0008],
      [9, 1820, eLiszt, 0.0009]] }
];

function buildPanel(p) {
  const cv = document.getElementById(p.id);
  const plotW = p.plot[1] - p.plot[0];
  p.left = p.plot[0] - Y_AXIS_W;
  cv.width = Y_AXIS_W + plotW + PAD_R;
  cv.height = PAD_T + PLOT_H + X_AXIS_H;
  cv.style.left = p.left + 'px';
  cv.style.top = (PLOT_TOP - PAD_T) + 'px';

  const datasets = [];
  p.series.forEach(([k, from, vals, band]) => {
    const col = lineColors[k];
    const hw = i => Array.isArray(band) ? band[i] : band;
    const pts = sign => vals.map((v, i) => ({ x: from + i, y: v + sign * hw(i) }));
    datasets.push({ data: pts(1), borderWidth: 0, pointRadius: 0, fill: false, order: 100 });
    datasets.push({ data: pts(-1), borderWidth: 0, pointRadius: 0, fill: '-1',
      backgroundColor: rgba(col, 0.2), order: 100 });
    datasets.push({ label: composers[k], data: pts(0), borderColor: col, borderWidth: 4,
      borderJoinStyle: 'round', pointStyle: marker(markerShapes[k], col, p.mk),
      pointRadius: p.mk / 2, order: 50 - k });
  });

  const tickFont = { family: 'DejaVu Sans', size: 20 };
  const plugins = [framePlugin];
  if (p.legend) plugins.push(legendPlugin);
  p.chart = new Chart(cv, {
    type: 'line',
    data: { datasets },
    plugins,
    options: {
      responsive: false, animation: false, events: [],
      layout: { padding: { top: PAD_T, right: PAD_R, left: 0, bottom: 0 } },
      datasets: { line: { clip: 0, tension: 0 } },
      plugins: { legend: { display: false }, tooltip: { enabled: false },
        frame: { tag: p.tag, tagX: p.tagX, tagY: p.tagY } },
      scales: {
        x: {
          type: 'linear', min: p.xMin, max: p.xMax,
          afterBuildTicks: s => { s.ticks = p.xTicks.map(v => ({ value: v })); },
          afterFit: s => { s.height = X_AXIS_H; },
          ticks: { callback: v => String(v), font: tickFont, color: TXT, padding: 5, maxRotation: 0 },
          grid: { drawOnChartArea: false, drawTicks: true, tickLength: 7, tickColor: '#222', tickWidth: 1.5 },
          border: { display: false }
        },
        y: {
          type: 'linear', min: p.yMin, max: p.yMax,
          afterBuildTicks: s => { s.ticks = p.yTicks.map(v => ({ value: v })); },
          afterFit: s => { s.width = Y_AXIS_W; },
          ticks: { callback: v => v.toFixed(p.dec), font: tickFont, color: TXT, padding: 9 },
          grid: { drawOnChartArea: false, drawTicks: true, tickLength: 7, tickColor: '#222', tickWidth: 1.5 },
          border: { display: false }
        }
      }
    }
  });
}
panels.forEach(buildPanel);

// year -> page x, through the panel x scales (years before the first panel sit on its left edge)
function panelPx(p, y) { return p.left + p.chart.scales.x.getPixelForValue(y); }
function yearToPx(y, isEnd) {
  const first = panels[0], last = panels[panels.length - 1];
  if (y <= first.xMin) return panelPx(first, first.xMin);
  if (y >= last.xMax) return panelPx(last, last.xMax);
  for (const p of panels) {
    const inside = isEnd ? (y > p.xMin && y <= p.xMax) : (y >= p.xMin && y < p.xMax);
    if (inside) return panelPx(p, y);
  }
  return panelPx(last, last.xMax);
}

const HEAD_TOP = 26, HEAD_BOT = 123;
const timelinePlugin = {
  id: 'timelineDeco',
  beforeDatasetsDraw(chart) {
    const { ctx } = chart;
    const meta = chart.getDatasetMeta(0);
    ctx.save();
    // era header
    eraNames.forEach((name, i) => {
      const x0 = yearToPx(eraFrom[i], false), x1 = yearToPx(eraTo[i], false);
      ctx.fillStyle = '#d3d4d6';
      ctx.fillRect(x0, HEAD_TOP, x1 - x0, HEAD_BOT - HEAD_TOP);
      ctx.strokeStyle = '#222'; ctx.lineWidth = 2.5;
      ctx.strokeRect(x0, HEAD_TOP, x1 - x0, HEAD_BOT - HEAD_TOP);
      ctx.fillStyle = '#1a1a1a'; ctx.font = "45px 'Liberation Serif'";
      ctx.textAlign = 'center'; ctx.textBaseline = 'alphabetic';
      ctx.fillText(name, (x0 + x1) / 2, 88);
    });
    // dashed guides
    ctx.strokeStyle = '#333'; ctx.lineWidth = 2; ctx.setLineDash([19, 12]);
    const guide = (x, yTop) => { ctx.beginPath(); ctx.moveTo(x, yTop); ctx.lineTo(x, PLOT_TOP); ctx.stroke(); };
    eraFrom.forEach(y => guide(yearToPx(y, false), HEAD_BOT + 2));
    guide(yearToPx(eraTo[eraTo.length - 1], false), HEAD_BOT + 2);
    const leftEdge = yearToPx(panels[0].xMin, false);
    meta.data.forEach((bar, i) => {
      const bottom = bar.y + bar.height / 2;
      const xs = yearToPx(lifeBorn[i], false), xe = yearToPx(lifeDied[i], true);
      if (xs > leftEdge + 1) guide(xs, bottom);
      guide(xe, bottom);
    });
    ctx.setLineDash([]);
    ctx.font = "40px 'Liberation Serif'"; ctx.fillStyle = '#1a1a1a';
    ctx.textAlign = 'left'; ctx.fillText('(A)', 8, 44);
    ctx.restore();
  },
  afterDatasetsDraw(chart) {
    const { ctx } = chart;
    const meta = chart.getDatasetMeta(0);
    ctx.save();
    ctx.font = "28px 'Liberation Serif'"; ctx.textAlign = 'center'; ctx.textBaseline = 'middle';
    meta.data.forEach((bar, i) => {
      ctx.fillStyle = lifeColors[i] === '#fae600' ? '#222' : '#fff';
      ctx.fillText(`${lifeNames[i]} (${lifeBorn[i]}-${lifeDied[i]})`, (bar.x + bar.base) / 2, bar.y + 1);
    });
    ctx.restore();
  }
};

new Chart(document.getElementById('timeline'), {
  type: 'bar',
  data: {
    labels: lifeNames,
    datasets: [{
      data: lifeBorn.map((b, i) => [yearToPx(b, false), yearToPx(lifeDied[i], true)]),
      backgroundColor: lifeColors, borderWidth: 0, barPercentage: 0.78, categoryPercentage: 1
    }]
  },
  plugins: [timelinePlugin],
  options: {
    indexAxis: 'y', responsive: false, animation: false, events: [],
    layout: { padding: { top: 179.5, bottom: 50.5, left: 0, right: 0 } },
    scales: { x: { type: 'linear', min: 0, max: 3493, display: false }, y: { display: false } },
    plugins: { legend: { display: false }, tooltip: { enabled: false } }
  }
});
</script>
</body>
</html>
